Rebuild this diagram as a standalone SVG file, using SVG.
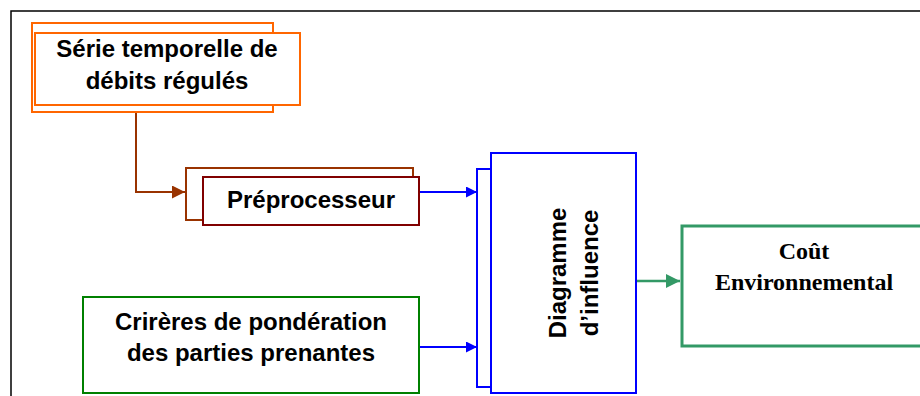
<svg xmlns="http://www.w3.org/2000/svg" width="920" height="396" viewBox="0 0 920 396">
<defs>
<style>
.t{font-family:"Liberation Sans",Arial,sans-serif;font-weight:bold;font-size:24px;fill:#000;text-anchor:middle}
.s{font-family:"Liberation Serif","Times New Roman",serif;font-weight:bold;font-size:24px;fill:#000;text-anchor:middle}
</style>
<marker id="ab" viewBox="0 0 10 10" refX="10" refY="5" markerWidth="13" markerHeight="13" markerUnits="userSpaceOnUse" orient="auto"><path d="M0,0L10,5L0,10z" fill="#993300"/></marker>
<marker id="au" viewBox="0 0 10 10" refX="10" refY="5" markerWidth="11" markerHeight="11" markerUnits="userSpaceOnUse" orient="auto"><path d="M0,0L10,5L0,10z" fill="#0000FF"/></marker>
<marker id="ag" viewBox="0 0 10 10" refX="10" refY="5" markerWidth="14" markerHeight="14" markerUnits="userSpaceOnUse" orient="auto"><path d="M0,0L10,5L0,10z" fill="#339966"/></marker>
</defs>
<rect x="11" y="11" width="930" height="400" fill="#fff" stroke="#000" stroke-width="1.5"/>
<g id="connectors" fill="none">
<path d="M136,112V192H185" stroke="#993300" stroke-width="2" marker-end="url(#ab)"/>
<path d="M419,192H477" stroke="#0000FF" stroke-width="2" marker-end="url(#au)"/>
<path d="M419,347H477" stroke="#0000FF" stroke-width="2" marker-end="url(#au)"/>
<path d="M636,281H680" stroke="#339966" stroke-width="2.5" marker-end="url(#ag)"/>
</g>
<g id="serie">
<rect x="32" y="23" width="241" height="89" fill="#fff" stroke="#FF6600" stroke-width="2"/>
<rect x="35" y="33" width="265" height="72" fill="#fff" stroke="#FF6600" stroke-width="2"/>
<text class="t" x="167" y="57">Série temporelle de</text>
<text class="t" x="167" y="89">débits régulés</text>
</g>
<g id="preprocesseur">
<rect x="186" y="168" width="227" height="52" fill="#fff" stroke="#993300" stroke-width="2"/>
<rect x="203" y="177" width="216" height="48" fill="#fff" stroke="#800000" stroke-width="2"/>
<text class="t" x="311" y="208">Préprocesseur</text>
</g>
<g id="criteres">
<rect x="83" y="297" width="336" height="96" fill="#fff" stroke="#008000" stroke-width="2"/>
<text class="t" x="251" y="330">Crirères de pondération</text>
<text class="t" x="251" y="361">des parties prenantes</text>
</g>
<g id="diagramme">
<rect x="477" y="169" width="100" height="218" fill="#fff" stroke="#0000FF" stroke-width="2"/>
<rect x="491" y="153" width="145" height="240" fill="#fff" stroke="#0000FF" stroke-width="2"/>
<text class="t" transform="translate(566,273) rotate(-90)">Diagramme</text>
<text class="t" transform="translate(598,273) rotate(-90)">d’influence</text>
</g>
<g id="cout">
<rect x="682" y="226" width="260" height="120" fill="#fff" stroke="#339966" stroke-width="3"/>
<text class="s" x="804" y="259">Coût</text>
<text class="s" x="804" y="290">Environnemental</text>
</g>
</svg>
